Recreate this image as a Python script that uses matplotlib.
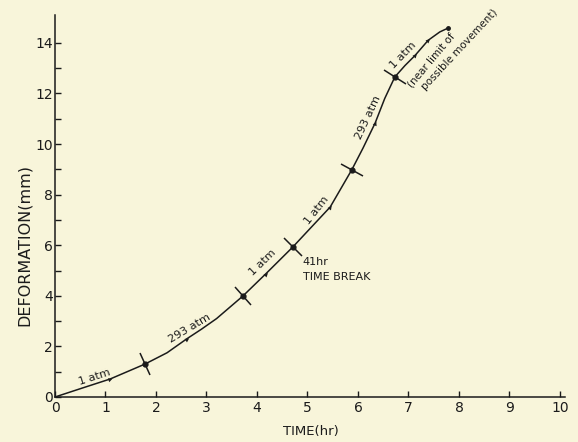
import numpy as np
import matplotlib.pyplot as plt
from matplotlib.markers import MarkerStyle
from matplotlib.transforms import Affine2D

# values
time_hr = [0, 0.55, 1.09, 1.78, 2.22, 2.61, 2.9, 3.2, 3.72, 4.18, 4.71, 5.0, 5.45,
           5.88, 6.1, 6.34, 6.53, 6.73, 6.93, 7.13, 7.39, 7.62, 7.78]
deform_mm = [0, 0.36, 0.71, 1.30, 1.75, 2.30, 2.68, 3.10, 3.99, 4.88, 5.93, 6.55, 7.51,
             8.99, 9.84, 10.83, 11.8, 12.65, 13.1, 13.5, 14.1, 14.43, 14.58]

# pressure change marks
break_t = [1.78, 3.72, 4.71, 5.88, 6.73]
break_d = [1.30, 3.99, 5.93, 8.99, 12.65]

# small direction arrows on the curve
arrow_t = [1.09, 2.61, 4.18, 5.45, 6.34, 7.13, 7.39]
arrow_d = [0.71, 2.30, 4.88, 7.51, 10.83, 13.5, 14.1]

# segment labels: text, x, y, rotation
seg_labels = ["1 atm", "293 atm", "1 atm", "1 atm", "293 atm", "1 atm"]
seg_x = [0.79, 2.67, 4.12, 5.19, 6.2, 6.9]
seg_y = [0.79, 2.73, 5.3, 7.39, 11.03, 13.5]
seg_rot = [18, 31, 44, 52, 65, 46]

x_ticks = list(range(0, 11))
y_ticks = [0, 2, 4, 6, 8, 10, 12, 14]

ink = '#1b1b1b'
paper = '#f8f5da'

fig = plt.figure(figsize=(5.78, 4.42), dpi=100, facecolor=paper)
ax = fig.add_axes([55/578, 45/442, 510/578, 382/442], facecolor=paper)
ax.set_xlim(0, 10.1)
ax.set_ylim(0, 15.1)

ax.plot(time_hr, deform_mm, color=ink, lw=1.1, solid_capstyle='round')
ax.plot(time_hr[-1], deform_mm[-1], 'o', color=ink, ms=2.5)

# tangent angle (in screen space) for marks
fig.canvas.draw()
pts = ax.transData.transform(np.column_stack([time_hr, deform_mm]))

def screen_angle(t):
    i = int(np.argmin(np.abs(np.array(time_hr) - t)))
    a = pts[max(i - 1, 0)]
    b = pts[min(i + 1, len(pts) - 1)]
    return np.degrees(np.arctan2(b[1] - a[1], b[0] - a[0]))

for t, d in zip(break_t, break_d):
    ang = screen_angle(t)
    m = MarkerStyle('|', transform=Affine2D().rotate_deg(ang))
    ax.plot(t, d, marker=m, color=ink, ms=18, mew=1.1)
    ax.plot(t, d, 'o', color=ink, ms=3.5)

for t, d in zip(arrow_t, arrow_d):
    ang = screen_angle(t)
    m = MarkerStyle('>', transform=Affine2D().rotate_deg(ang))
    ax.plot(t, d, marker=m, color=ink, ms=3, mew=0)

for s, x, y, r in zip(seg_labels, seg_x, seg_y, seg_rot):
    ax.text(x, y, s, rotation=r, ha='center', va='center', fontsize=8,
            color=ink, rotation_mode='anchor')

ax.text(7.45, 13.3, "(near limit of", rotation=50, ha='center', va='center',
        fontsize=7.5, color=ink, rotation_mode='anchor')
ax.text(8.02, 13.72, "possible movement)", rotation=47, ha='center', va='center',
        fontsize=7.5, color=ink, rotation_mode='anchor')

ax.text(4.91, 5.34, "41hr", ha='left', va='center', fontsize=8, color=ink)
ax.text(4.91, 4.74, "TIME BREAK", ha='left', va='center', fontsize=8, color=ink)

for side in ['top', 'right']:
    ax.spines[side].set_visible(False)
for side in ['left', 'bottom']:
    ax.spines[side].set_color(ink)
    ax.spines[side].set_linewidth(1.1)

ax.set_xticks(x_ticks)
ax.set_yticks(y_ticks)
ax.set_yticks([1, 3, 5, 7, 9, 11, 13], minor=True)
ax.tick_params(axis='both', which='major', direction='in', length=4, width=1,
               color=ink, labelcolor=ink, labelsize=10)
ax.tick_params(axis='y', which='minor', direction='in', length=4, width=1, color=ink)
ax.tick_params(axis='y', pad=1.5)
ax.tick_params(axis='x', pad=3)

fig.text(24/578, 1 - 245/442, "DEFORMATION(mm)", rotation=90, ha='center',
         va='center', fontsize=11.5, color=ink)
fig.text(311/578, 1 - 431/442, "TIME(hr)", ha='center', va='center',
         fontsize=9.5, color=ink)

fig.savefig('out.png', dpi=100, facecolor=paper)
